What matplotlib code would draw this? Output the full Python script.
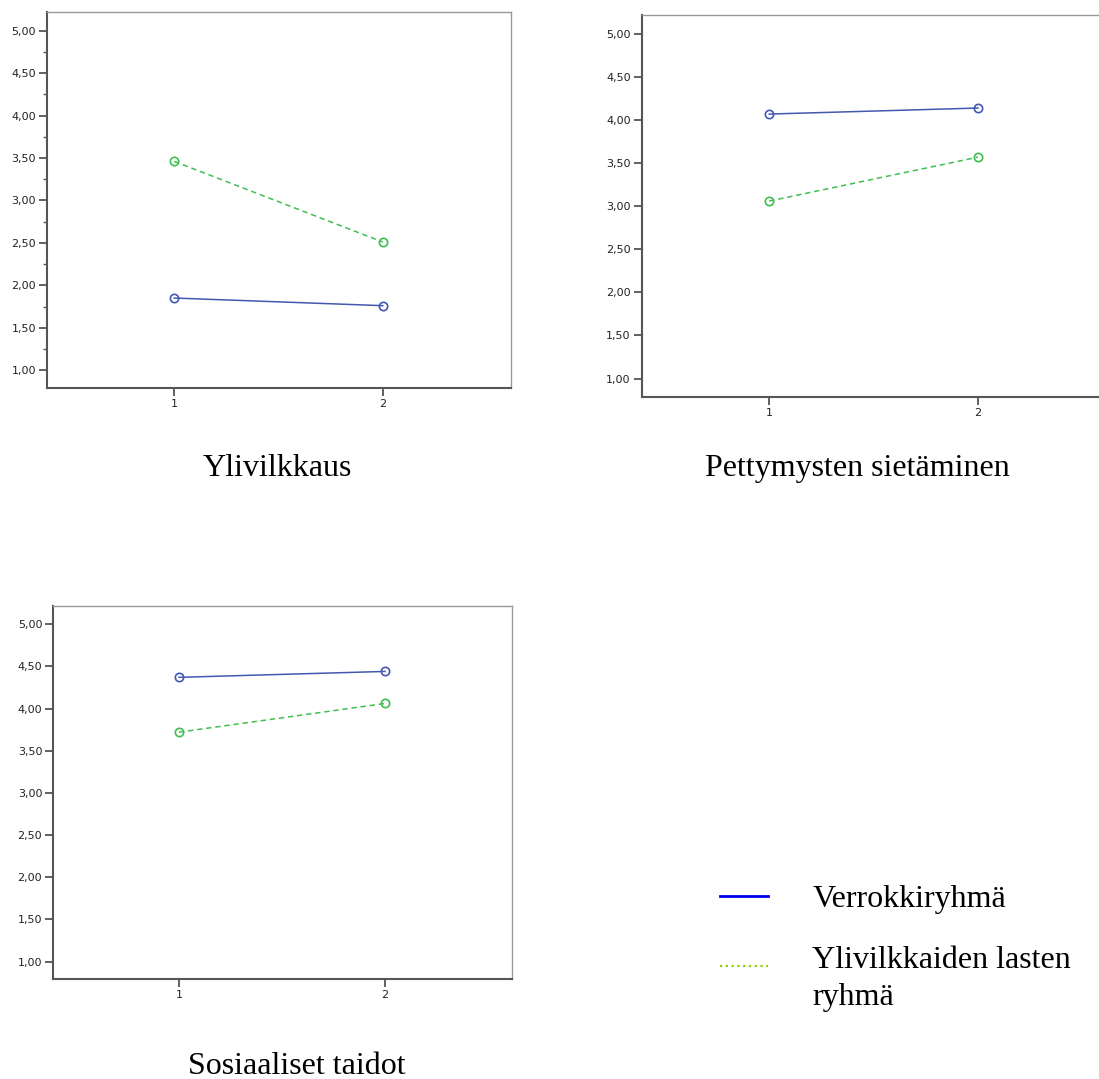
import numpy as np
import matplotlib.pyplot as plt
from matplotlib.ticker import FuncFormatter, MultipleLocator

# Data
times = [1, 2]
titles = ["Ylivilkkaus", "Pettymysten sietäminen", "Sosiaaliset taidot"]
control = [[1.85, 1.76], [4.07, 4.14], [4.37, 4.44]]      # Verrokkiryhmä
adhd = [[3.46, 2.51], [3.06, 3.57], [3.72, 4.06]]         # Ylivilkkaiden lasten ryhmä
legend_labels = ["Verrokkiryhmä", "Ylivilkkaiden lasten", "ryhmä"]

blue = "#4358b0"
green = "#3fbf4f"
spine_col = "#555555"

fig = plt.figure(figsize=(10.99, 10.79), dpi=100)

# axes rectangles (figure fractions) and title positions
rects = [
    [0.0428, 0.6404, 0.4222, 0.3485],
    [0.5841, 0.6324, 0.4225, 0.3537],
    [0.0485, 0.0924, 0.4171, 0.3463],
]
title_pos = [(0.252, 1 - 468 / 1079), (0.780, 1 - 468 / 1079), (0.270, 1 - 1066 / 1079)]

comma = FuncFormatter(lambda v, p: f"{v:.2f}".replace(".", ","))

for i in range(3):
    ax = fig.add_axes(rects[i])
    ax.plot(times, control[i], color=blue, lw=1.1, marker="o", ms=6,
            mfc="none", mec=blue, mew=1.2)
    ax.plot(times, adhd[i], color=green, lw=1.1, ls=(0, (3.5, 2.5)),
            marker="o", ms=6, mfc="none", mec=green, mew=1.2)
    ax.set_xlim(0.39, 2.615)
    ax.set_ylim(0.79, 5.22)
    ax.set_xticks(times)
    ax.set_xticklabels(["1", "2"])
    ax.set_yticks(np.arange(1.0, 5.01, 0.5))
    ax.yaxis.set_major_formatter(comma)
    if i == 0:
        ax.yaxis.set_minor_locator(MultipleLocator(0.25))
        ax.tick_params(axis="y", which="minor", length=3, width=1, color=spine_col)
    ax.tick_params(axis="both", which="major", length=6, width=1.3,
                   color=spine_col, labelsize=8, labelcolor="#222222", pad=2)
    for side in ["left", "bottom"]:
        ax.spines[side].set_color(spine_col)
        ax.spines[side].set_linewidth(1.5)
    for side in ["top", "right"]:
        ax.spines[side].set_color("#999999")
        ax.spines[side].set_linewidth(1.0)
    fig.text(title_pos[i][0], title_pos[i][1], titles[i], ha="center", va="center",
             fontsize=23, family="Liberation Serif")

# legend drawn by hand in figure coordinates
fig.lines.append(plt.Line2D([0.655, 0.699], [1 - 896 / 1079] * 2, color="#0000ee", lw=2,
                            transform=fig.transFigure))
fig.lines.append(plt.Line2D([0.655, 0.699], [1 - 966 / 1079] * 2, color="#99cc00", lw=1.6,
                            ls=(0, (1, 1.6)), transform=fig.transFigure))
fig.text(0.739, 1 - 899 / 1079, legend_labels[0], ha="left", va="center",
         fontsize=23, family="Liberation Serif")
fig.text(0.739, 1 - 960 / 1079, legend_labels[1], ha="left", va="center",
         fontsize=23, family="Liberation Serif")
fig.text(0.739, 1 - 997 / 1079, legend_labels[2], ha="left", va="center",
         fontsize=23, family="Liberation Serif")

fig.savefig("out.png", dpi=100)
